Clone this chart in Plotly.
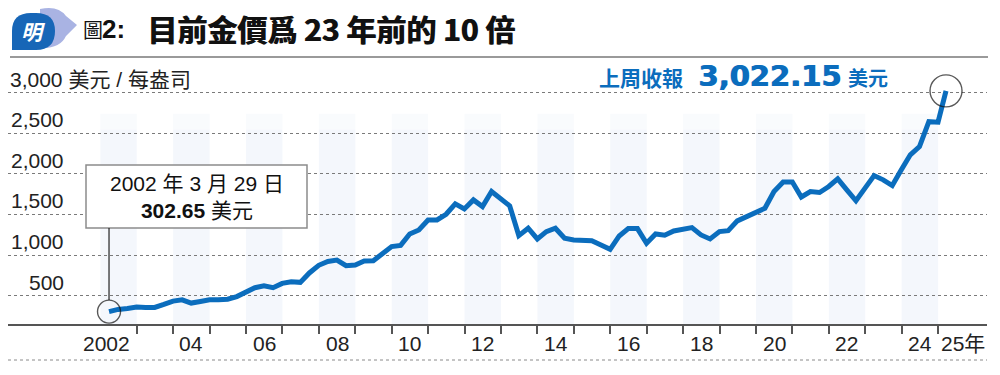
import plotly.graph_objects as go

# ---------------- data ----------------
dates = [
    "2002-03-29", "2002-06-28", "2002-09-30", "2002-12-31",
    "2003-03-31", "2003-06-30", "2003-09-30", "2003-12-31",
    "2004-03-31", "2004-06-30", "2004-09-30", "2004-12-31",
    "2005-03-31", "2005-06-30", "2005-09-30", "2005-12-30",
    "2006-03-31", "2006-06-30", "2006-09-29", "2006-12-29",
    "2007-03-30", "2007-06-29", "2007-09-28", "2007-12-31",
    "2008-03-31", "2008-06-30", "2008-09-30", "2008-12-31",
    "2009-03-31", "2009-06-30", "2009-09-30", "2009-12-31",
    "2010-03-31", "2010-06-30", "2010-09-30", "2010-12-31",
    "2011-03-31", "2011-06-30", "2011-09-30", "2011-12-30",
    "2012-03-30", "2012-06-29", "2012-09-28", "2012-12-31",
    "2013-03-29", "2013-06-28", "2013-09-30", "2013-12-31",
    "2014-03-31", "2014-06-30", "2014-09-30", "2014-12-31",
    "2015-03-31", "2015-06-30", "2015-09-30", "2015-12-31",
    "2016-03-31", "2016-06-30", "2016-09-30", "2016-12-30",
    "2017-03-31", "2017-06-30", "2017-09-29", "2017-12-29",
    "2018-03-30", "2018-06-29", "2018-09-28", "2018-12-31",
    "2019-03-29", "2019-06-28", "2019-09-30", "2019-12-31",
    "2020-03-31", "2020-06-30", "2020-09-30", "2020-12-31",
    "2021-03-31", "2021-06-30", "2021-09-30", "2021-12-31",
    "2022-03-31", "2022-06-30", "2022-09-30", "2022-12-30",
    "2023-03-31", "2023-06-30", "2023-09-29", "2023-12-29",
    "2024-03-28", "2024-06-28", "2024-09-30", "2024-12-31",
    "2025-03-21",
]
prices = [
    302.65, 330, 342, 359,
    354, 354, 391, 432,
    448, 408, 427, 448,
    448, 456, 488, 536,
    597, 621, 597, 650,
    670, 663, 779, 873,
    921, 938, 868, 877,
    926, 930, 1021, 1103,
    1119, 1259, 1309, 1432,
    1432, 1502, 1630, 1568,
    1679, 1597, 1782, 1687,
    1605, 1239, 1330, 1198,
    1288, 1330, 1206, 1185,
    1181, 1177, 1124, 1070,
    1235, 1325, 1325, 1144,
    1259, 1243, 1296, 1317,
    1337, 1247, 1198, 1288,
    1300, 1420, 1473, 1527,
    1576, 1782, 1900, 1900,
    1715, 1782, 1770, 1844,
    1938, 1803, 1668, 1824,
    1979, 1926, 1856, 2049,
    2234, 2336, 2643, 2636,
    3022.15,
]

y_ticks = [500, 1000, 1500, 2000, 2500, 3000]
y_tick_text = ["500", "1,000", "1,500", "2,000", "2,500", "3,000 美元 / 每盎司"]

tick_years = list(range(2003, 2026))          # year boundaries with tick marks
band_years = list(range(2002, 2025, 2))       # shaded even years
label_years = [2002, 2004, 2006, 2008, 2010, 2012, 2014, 2016, 2018, 2020, 2022, 2024, 2025]
label_text = ["2002", "04", "06", "08", "10", "12", "14", "16", "18", "20", "22", "24", "25年"]

title_fig = "圖"
title_num = "2:"
title_main = "目前金價爲 23 年前的 10 倍"
first_note_1 = "2002 年 3 月 29 日"
first_note_2 = "302.65"
last_label = "上周收報"
last_value = "3,022.15"
unit = "美元"

# ---------------- style ----------------
W, H = 1000, 375
BLUE = "#0b6dbd"
FONT = "Liberation Sans, Noto Sans CJK TC, sans-serif"
CJK = "Noto Sans CJK TC, Liberation Sans, sans-serif"


def px(x):
    return x / W


def py(y):
    return 1 - y / H


def ppath(cmds):
    out = []
    for c in cmds:
        if isinstance(c, str):
            out.append(c)
        else:
            out.append(f"{px(c[0]):.5f},{py(c[1]):.5f}")
    return " ".join(out)


fig = go.Figure()

# main line
fig.add_trace(go.Scatter(
    x=dates, y=prices, mode="lines",
    line=dict(color=BLUE, width=5, shape="linear"),
    hoverinfo="skip", showlegend=False,
))
# highlight circles on first and last points
fig.add_trace(go.Scatter(
    x=[dates[0], dates[-1]], y=[prices[0], prices[-1]], mode="markers",
    marker=dict(symbol="circle-open", size=[23, 32], color="#111",
                line=dict(color="#111", width=1.4)),
    cliponaxis=False, hoverinfo="skip", showlegend=False,
))

shapes = []
# alternating year bands
for yr in band_years:
    shapes.append(dict(type="rect", xref="x", yref="y",
                       x0=f"{yr}-01-01", x1=f"{yr + 1}-01-01", y0=150, y1=2550,
                       fillcolor="#f4f7fc", line=dict(width=0), layer="below"))
    shapes.append(dict(type="rect", xref="x", yref="y",
                       x0=f"{yr}-01-01", x1=f"{yr + 1}-01-01", y0=2550, y1=2740,
                       fillcolor="#f9fbfd", line=dict(width=0), layer="below"))

# title rule
shapes.append(dict(type="line", xref="paper", yref="paper",
                   x0=px(10), x1=px(988), y0=py(57), y1=py(57),
                   line=dict(color="#9a9a9a", width=2)))
# bottom dotted rule
shapes.append(dict(type="line", xref="paper", yref="paper",
                   x0=px(8), x1=px(987), y0=py(360), y1=py(360),
                   line=dict(color="#8a8a8a", width=1, dash="dot")))
# logo
shapes.append(dict(type="path", xref="paper", yref="paper",
                   path=ppath(["M", (40, 9), "Q", (58, 5), (66, 16), "L", (77, 25), "L", (66, 36),
                               "Q", (60, 49), (40, 48), "Z"]),
                   fillcolor="#a9b3e3", line=dict(width=0)))
shapes.append(dict(type="path", xref="paper", yref="paper",
                   path=ppath(["M", (12, 50), "L", (12, 31), "Q", (12, 13), (31, 13), "L", (36, 13),
                               "Q", (55, 13), (55, 31), "Q", (55, 50), (36, 50), "Z"]),
                   fillcolor="#1766b7", line=dict(width=0)))
# callout box
shapes.append(dict(type="rect", xref="paper", yref="paper",
                   x0=px(86), x1=px(307), y0=py(228), y1=py(165),
                   fillcolor="white", line=dict(color="#8c8c8c", width=1.5)))
# callout connector
shapes.append(dict(type="line", xref="x", yref="paper",
                   x0=dates[0], x1=dates[0], y0=py(228), y1=py(300),
                   line=dict(color="#222", width=1.2)))

ann = []
# logo glyph
ann.append(dict(text="<b><i>明</i></b>", xref="paper", yref="paper", x=px(33), y=py(31),
                xanchor="center", yanchor="middle", showarrow=False,
                font=dict(family=CJK, size=21, color="white")))
# title
ann.append(dict(text=title_fig, xref="paper", yref="paper", x=px(81), y=py(29),
                xanchor="left", yanchor="middle", showarrow=False,
                font=dict(family=CJK, size=20, color="#111")))
ann.append(dict(text=f"<b>{title_num}</b>", xref="paper", yref="paper", x=px(100), y=py(29),
                xanchor="left", yanchor="middle", showarrow=False,
                font=dict(family=FONT, size=26, color="#111")))
for dx in (0, 0.8):
    ann.append(dict(text=f"<b>{title_main}</b>", xref="paper", yref="paper", x=px(145), y=py(28),
                    xanchor="left", yanchor="middle", showarrow=False, xshift=dx,
                    font=dict(family=CJK, size=30, color="#111")))
# y labels
for v, t in zip(y_ticks, y_tick_text):
    if v == 3000:
        ann.append(dict(text=t, xref="paper", yref="y", x=px(8), y=v,
                        xanchor="left", yanchor="bottom", showarrow=False,
                        font=dict(family=FONT, size=21, color="#222")))
    else:
        ann.append(dict(text=t, xref="paper", yref="y", x=px(66), y=v,
                        xanchor="right", yanchor="bottom", showarrow=False,
                        font=dict(family=FONT, size=21, color="#222")))
# x labels
for yr, t in zip(label_years, label_text):
    if t == "2002":
        ann.append(dict(text=t, xref="x", yref="paper", x=f"{yr}-03-01", y=py(343),
                        xanchor="center", yanchor="middle", showarrow=False,
                        font=dict(family=FONT, size=21, color="#222")))
    elif yr == 2025:
        ann.append(dict(text=t, xref="x", yref="paper", x=f"{yr}-01-01", y=py(343),
                        xanchor="left", yanchor="middle", showarrow=False, xshift=1,
                        font=dict(family=FONT, size=21, color="#222")))
    else:
        ann.append(dict(text=t, xref="x", yref="paper", x=f"{yr}-07-02", y=py(343),
                        xanchor="center", yanchor="middle", showarrow=False,
                        font=dict(family=FONT, size=21, color="#222")))
# callout text
ann.append(dict(text=f"{first_note_1}<br><b>{first_note_2}</b> {unit}",
                xref="paper", yref="paper", x=px(196.5), y=py(197),
                xanchor="center", yanchor="middle", showarrow=False, align="center",
                font=dict(family=FONT, size=21, color="#111")))
# last value label
ann.append(dict(text=f"<b>{last_label}</b>", xref="paper", yref="paper", x=px(597), y=py(77),
                xanchor="left", yanchor="middle", showarrow=False,
                font=dict(family=CJK, size=21, color=BLUE)))
for dx in (0, 0.8):
    ann.append(dict(text=f"<b>{last_value}</b>", xref="paper", yref="paper", x=px(696), y=py(76),
                    xanchor="left", yanchor="middle", showarrow=False, xshift=dx,
                    font=dict(family="DejaVu Sans, Liberation Sans, sans-serif", size=29, color=BLUE)))
ann.append(dict(text=f"<b>{unit}</b>", xref="paper", yref="paper", x=px(846), y=py(78),
                xanchor="left", yanchor="middle", showarrow=False,
                font=dict(family=CJK, size=20, color=BLUE)))

fig.update_layout(
    width=W, height=H,
    margin=dict(l=0, r=0, t=0, b=0),
    paper_bgcolor="white", plot_bgcolor="rgba(0,0,0,0)",
    shapes=shapes, annotations=ann,
    xaxis=dict(
        type="date", domain=[px(8), px(987)],
        range=["1999-06-20", "2026-05-06"],
        showgrid=False, zeroline=False,
        showline=True, linecolor="#555", linewidth=2,
        ticks="outside", ticklen=8, tickwidth=1.5, tickcolor="#555",
        tickvals=[f"{y}-01-01" for y in tick_years],
        showticklabels=False, fixedrange=True,
    ),
    yaxis=dict(
        domain=[py(324), py(80)],
        range=[150, 3156],
        tickvals=y_ticks, showticklabels=False,
        showgrid=True, gridcolor="#7a7a7a", gridwidth=1, griddash="dot",
        zeroline=False, showline=False, ticks="", fixedrange=True,
    ),
    showlegend=False,
)

fig.write_html(
    "out.html",
    config={"displayModeBar": False},
    post_script="document.body.style.margin='0';document.body.style.overflow='hidden';",
)
